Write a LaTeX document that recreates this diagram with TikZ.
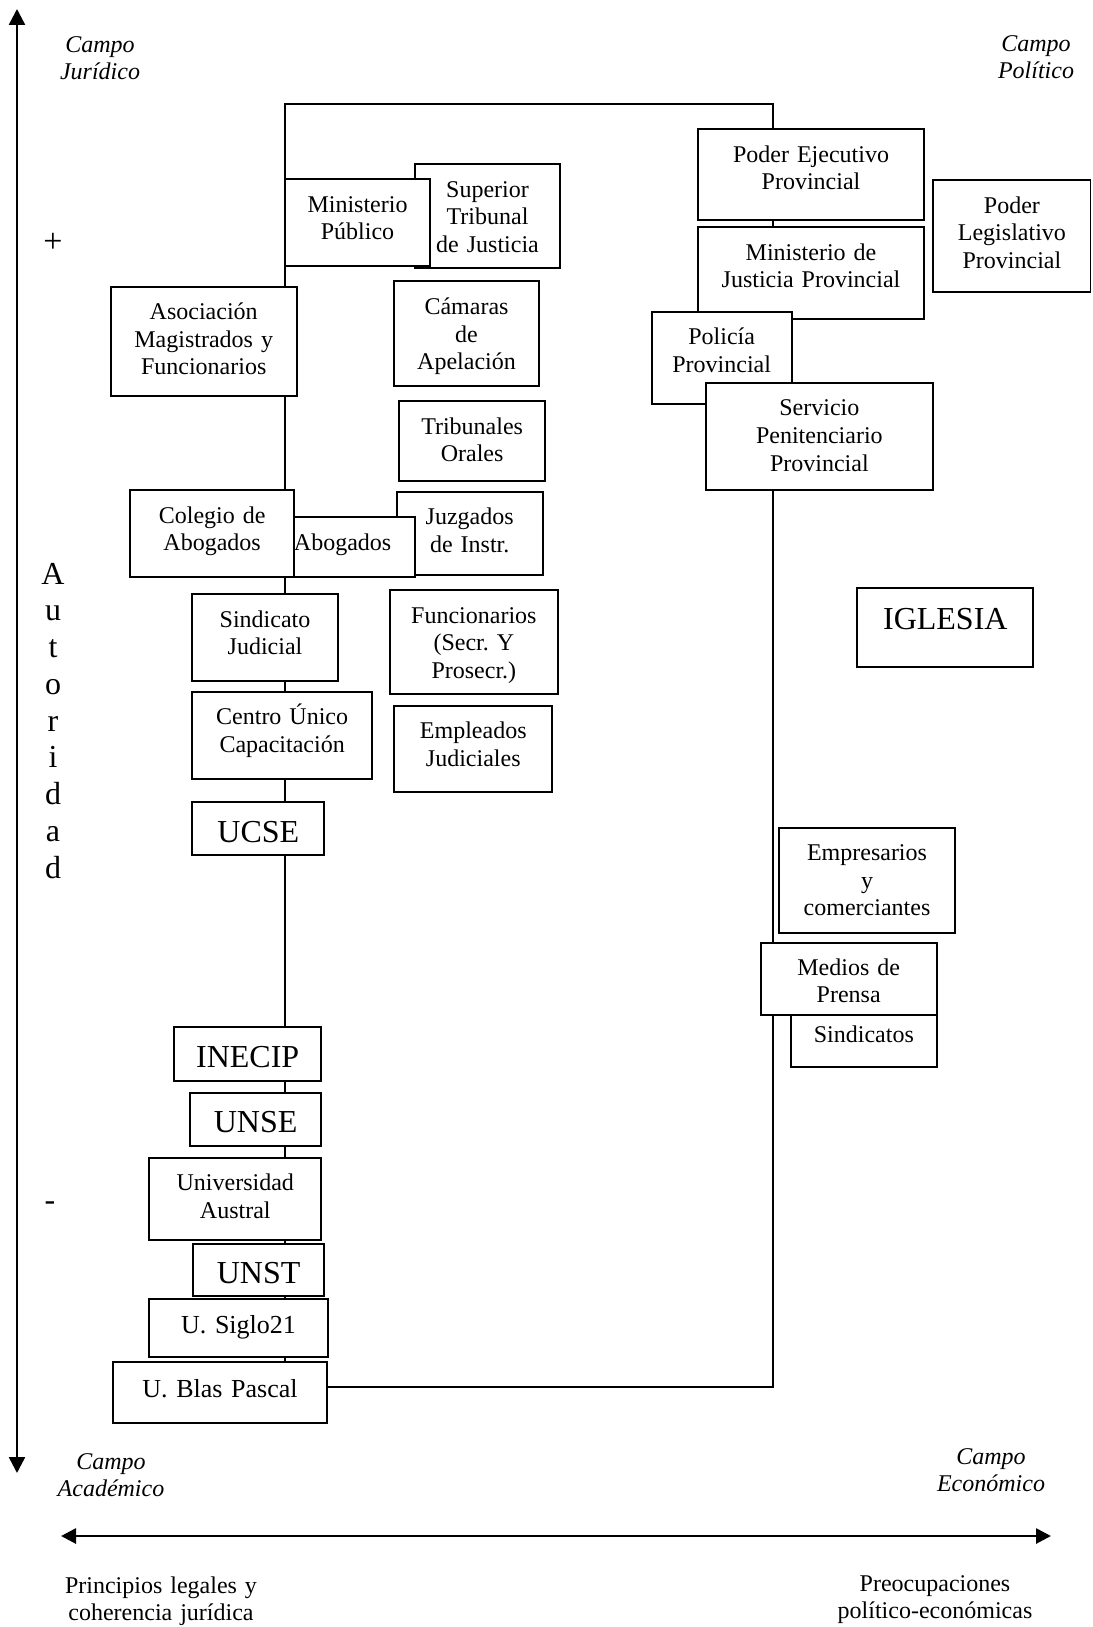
\documentclass[tikz,border=0pt]{standalone}
\usepackage{fontspec}
\setmainfont{Liberation Serif}
\usetikzlibrary{arrows.meta}
\pgfdeclarelayer{background}
\pgfsetlayers{background,main}
\frenchspacing
\tikzset{
  box/.style={draw, fill=white, line width=1.8pt, inner sep=0pt, outer sep=0pt},
  txt/.style={inner sep=0pt, outer sep=0pt, align=center, anchor=base},
  conn/.style={line width=1.6pt},
  axisv/.style={line width=2.5pt, {Triangle[length=16pt,width=16pt]}-{Triangle[length=16pt,width=16pt]}},
  axish/.style={line width=2.7pt, {Triangle[length=15pt,width=15pt]}-{Triangle[length=15pt,width=15pt]}},
  lbl/.style={inner sep=0pt, align=center, anchor=base, text width=200pt, font=\fontsize{24}{27}\selectfont\itshape},
  plain/.style={inner sep=0pt, align=center, anchor=base, text width=280pt, font=\fontsize{24}{27}\selectfont},
}
% name, left, top, right, bottom, fontsize, baseline offset, text
\newcommand{\drawbox}[8]{%
  \pgfmathsetmacro\bxw{#4-#2}\pgfmathsetmacro\bxh{#5-#3}%
  \pgfmathsetmacro\bxcx{(#2+#4)/2}\pgfmathsetmacro\bxcy{(#3+#5)/2}%
  \pgfmathsetmacro\bxby{#3+#7}\pgfmathsetmacro\bxls{#6*1.15}%
  \node[box, minimum width=\bxw pt, minimum height=\bxh pt] (#1) at (\bxcx,\bxcy) {};
  \node[txt, text width=\bxw pt, font=\fontsize{#6}{\bxls}\selectfont] (#1-t) at (\bxcx,\bxby) {#8};
}
\begin{document}
\begin{tikzpicture}[x=1pt,y=-1pt]
\useasboundingbox (0,0) rectangle (1092,1627);

% axes
\coordinate (vt) at (17,9);
\coordinate (vb) at (17,1473);
\draw[axisv] (vt) -- (vb);
\coordinate (hl) at (61,1536);
\coordinate (hr) at (1051,1536);
\draw[axish] (hl) -- (hr);

% corner labels
\node[lbl] (cj) at (100,52.7) {Campo\\Jurídico};
\node[lbl] (cp) at (1036,51.7) {Campo\\Político};
\node[lbl] (ca) at (111,1469) {Campo\\Académico};
\node[lbl] (ce) at (991,1464) {Campo\\Económico};
\node[plain] (pl1) at (161,1593) {Principios legales y\\coherencia jurídica};
\node[plain] (pl2) at (935,1591) {Preocupaciones\\político-económicas};

% vertical axis labels
\node[inner sep=0pt, font=\fontsize{34}{40}\selectfont] (plus) at (53,243) {+};
\node[inner sep=0pt, font=\fontsize{32}{37}\selectfont] (minus) at (50,1206) {-};
\node[inner sep=0pt, align=center, anchor=base, text width=40pt, font=\fontsize{32}{36.75}\selectfont] (aut) at (53,584) {A\\u\\t\\o\\r\\i\\d\\a\\d};

% left column
\drawbox{stj}{415}{164}{560}{268.3}{24}{33}{Superior\\Tribunal\\de Justicia}
\drawbox{mp}{285}{179.3}{430}{266}{24}{33}{Ministerio\\Público}
\drawbox{cam}{394}{280.7}{539}{386}{24}{34}{Cámaras\\de\\Apelación}
\drawbox{asoc}{110.7}{286.7}{296.7}{395.7}{24}{33}{Asociación\\Magistrados y\\Funcionarios}
\drawbox{trib}{399.3}{401}{545}{480.7}{24}{33}{Tribunales\\Orales}
\drawbox{jz}{396.7}{491.7}{542.7}{575}{24}{33}{Juzgados\\de Instr.}
\drawbox{abo}{270}{517.3}{415.3}{577.3}{24}{33}{Abogados}
\drawbox{col}{130}{490}{294.3}{577.3}{24}{33}{Colegio de\\Abogados}
\drawbox{fun}{390}{590}{557.7}{694.3}{24}{33}{Funcionarios\\(Secr. Y\\Prosecr.)}
\drawbox{sj}{192.3}{594}{337.7}{681}{24}{33}{Sindicato\\Judicial}
\drawbox{cuc}{192.3}{691.7}{372}{779}{24}{33}{Centro Único\\Capacitación}
\drawbox{emp}{394.3}{705.7}{552.3}{792.3}{24}{33}{Empleados\\Judiciales}
\drawbox{ucse}{192.3}{802.3}{324.3}{855.3}{32}{40}{UCSE}
\drawbox{inecip}{174}{1027.3}{321.3}{1080.7}{32}{40.5}{INECIP}
\drawbox{unse}{190}{1092.7}{321.3}{1145.7}{32}{40}{UNSE}
\drawbox{ua}{149.3}{1157.7}{321.3}{1240}{24}{33}{Universidad\\Austral}
\drawbox{unst}{193.3}{1244}{324}{1296}{32}{39}{UNST}
\drawbox{s21}{149.3}{1298.7}{327.7}{1356.7}{26}{34.6}{U. Siglo21}
\drawbox{ubp}{113.3}{1362.3}{326.7}{1422.7}{26}{35.2}{U. Blas Pascal}

% right column
\drawbox{pe}{697.7}{129}{924.3}{220}{24}{33}{Poder Ejecutivo\\Provincial}
\drawbox{pleg}{933.3}{180}{1090.5}{291.7}{24}{33}{Poder\\Legislativo\\Provincial}
\drawbox{mj}{698}{227.3}{924}{319}{24}{33}{Ministerio de\\Justicia Provincial}
\drawbox{pol}{651.7}{311.7}{791.7}{404.3}{24}{33}{Policía\\Provincial}
\drawbox{sp}{706}{383.3}{932.7}{490}{24}{32.5}{Servicio\\Penitenciario\\Provincial}
\drawbox{igl}{857.3}{587.7}{1033.3}{666.7}{32}{41.5}{IGLESIA}
\drawbox{empr}{779}{827.7}{955}{932.7}{24}{33}{Empresarios\\y\\comerciantes}
\drawbox{sind}{791}{1009}{936.7}{1066.7}{24}{33}{Sindicatos}
\drawbox{med}{760.7}{942.7}{936.7}{1015}{24}{32.5}{Medios de\\Prensa}

% connector frame
\coordinate (tl) at (285,104);
\coordinate (tr) at (772.7,104);
\coordinate (br) at (772.7,1386.7);
\begin{pgfonlayer}{background}
\draw[conn] (ubp.east |- br) -- (br) -- (tr) -- (tl) -- (tl |- ubp.north);
\end{pgfonlayer}
\end{tikzpicture}
\end{document}
